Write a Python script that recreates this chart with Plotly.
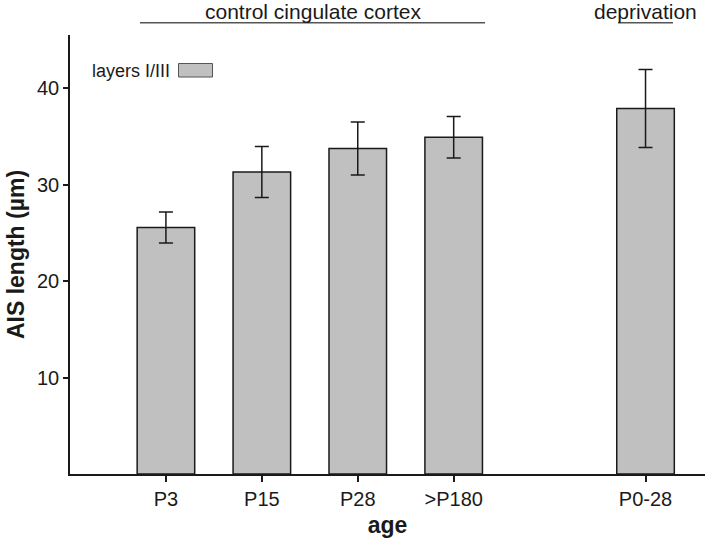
import plotly.graph_objects as go

# Data
categories = ["P3", "P15", "P28", ">P180", " ", "P0-28"]
tick_labels = ["P3", "P15", "P28", ">P180", "P0-28"]
ais_length = [25.55, 31.3, 33.73, 34.9, None, 37.88]
ais_err = [1.6, 2.65, 2.75, 2.15, None, 4.05]
y_ticks = [10, 20, 30, 40]

FONT = "Liberation Sans, Arial, Helvetica, sans-serif"
INK = "#1a1a1a"

L, T, W, H = 70, 35, 708, 545
R_EDGE, B_EDGE = 705, 473.8
PW, PH = R_EDGE - L, B_EDGE - T


def px(x):
    return (x - L) / PW


def py(y):
    return 1 - (y - T) / PH


fig = go.Figure()
fig.add_trace(go.Bar(
    x=categories, y=ais_length, width=0.6,
    marker=dict(color="#c0c0c0", line=dict(color=INK, width=1.5)),
    error_y=dict(type="data", array=ais_err, visible=True,
                 color=INK, thickness=1.5, width=7),
    showlegend=False,
))

fig.update_layout(
    width=W, height=H,
    margin=dict(l=L, r=W - R_EDGE, t=T, b=H - B_EDGE),
    paper_bgcolor="white", plot_bgcolor="white",
    font=dict(family=FONT, size=20, color=INK),
    xaxis=dict(
        type="category", categoryorder="array", categoryarray=categories,
        range=[-1.0, 5.62], tickvals=tick_labels, ticktext=tick_labels,
        showline=True, linecolor=INK, linewidth=1.5,
        ticks="outside", ticklen=6, tickwidth=1.5, tickcolor=INK,
        showgrid=False, zeroline=False,
        tickfont=dict(size=20),
        title=dict(text="<b>age</b>", font=dict(size=23), standoff=8),
    ),
    yaxis=dict(
        range=[0, 45.5], tickvals=y_ticks,
        showline=True, linecolor=INK, linewidth=1.5,
        ticks="outside", ticklen=5, tickwidth=1.5, tickcolor=INK,
        showgrid=False, zeroline=False,
        tickfont=dict(size=20),
        title=dict(text="<b>AIS length (µm)</b>", font=dict(size=23), standoff=6),
    ),
)

# group headers
fig.add_annotation(x=px(312.5), y=py(12), xref="paper", yref="paper",
                   text="control cingulate cortex", showarrow=False,
                   font=dict(size=21, color=INK), xanchor="center", yanchor="middle")
fig.add_shape(type="line", xref="paper", yref="paper", x0=px(140), x1=px(485),
              y0=py(22.7), y1=py(22.7), line=dict(color="#555555", width=1.5))
fig.add_annotation(x=px(645.5), y=py(12), xref="paper", yref="paper",
                   text="deprivation", showarrow=False,
                   font=dict(size=21, color=INK), xanchor="center", yanchor="middle")
fig.add_shape(type="line", xref="paper", yref="paper", x0=px(618), x1=px(673),
              y0=py(22.7), y1=py(22.7), line=dict(color="#555555", width=1.5))

# legend key
fig.add_annotation(x=px(172), y=py(71), xref="paper", yref="paper",
                   text="layers I/III", showarrow=False, font=dict(size=18, color=INK),
                   xanchor="right", yanchor="middle")
fig.add_shape(type="rect", xref="paper", yref="paper",
              x0=px(178.5), x1=px(212.5), y0=py(77), y1=py(63.5),
              fillcolor="#c0c0c0", line=dict(color="#555555", width=1))

fig.write_html("out.html",
               config={"displayModeBar": False},
               post_script="document.body.style.margin='0';document.body.style.overflow='hidden';")
